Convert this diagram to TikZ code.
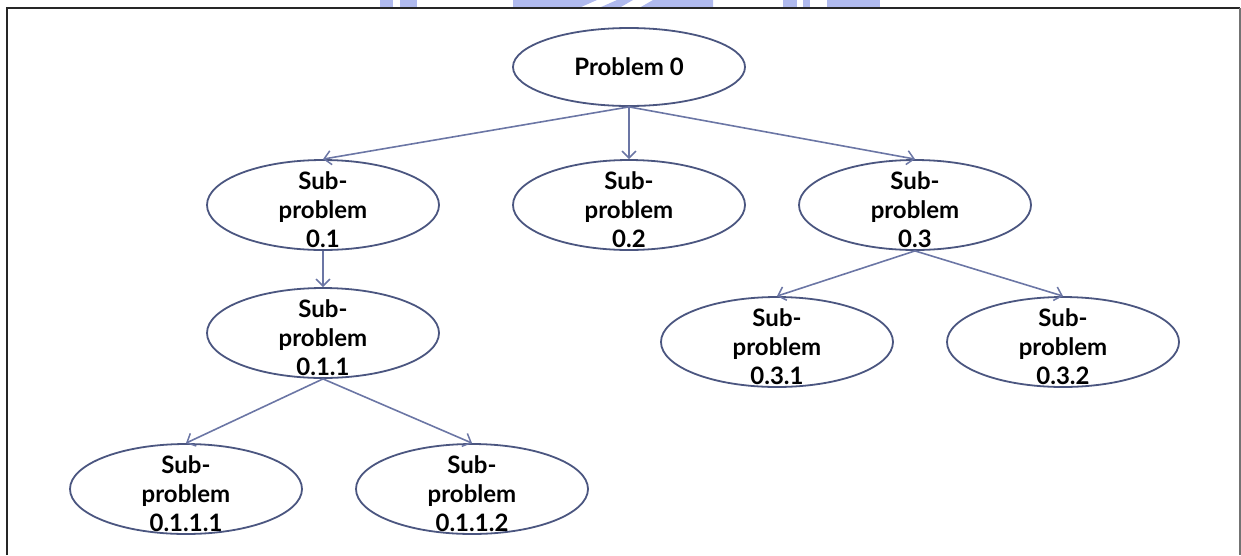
\documentclass[tikz,border=0pt]{standalone}
\usepackage{fontspec}
\setmainfont{Lato}
\usetikzlibrary{shapes.geometric,arrows.meta}

\definecolor{edgeblue}{HTML}{4B5680}
\definecolor{linkblue}{HTML}{6B76A5}
\definecolor{markblue}{HTML}{B0BAEE}

\tikzset{
  bubble/.style={ellipse, draw=edgeblue, line width=1.8pt, fill=white,
    minimum width=232pt, minimum height=90pt, inner sep=0pt},
  topbubble/.style={bubble, minimum height=78pt},
  caption/.style={font=\fontsize{24}{29}\selectfont\bfseries, align=center,
    inner sep=0pt},
  link/.style={draw=linkblue, line width=1.6pt,
    -{Straight Barb[length=7pt,width=14pt,line width=1.5pt]}},
  frameline/.style={line width=2pt}
}

\begin{document}
\begin{tikzpicture}[x=1pt,y=-1pt]
\useasboundingbox (0,0) rectangle (1241,555);

% strip of the page mark above the frame
\fill[markblue] (380,0) rectangle (393,7.5);
\fill[markblue] (400,0) rectangle (417,7.5);
\fill[markblue] (513,0) -- (597,0) -- (580,7.5) -- (513,7.5) -- cycle;
\fill[markblue] (617,0) -- (633,0) -- (620,7.5) -- (600,7.5) -- cycle;
\fill[markblue] (653,0) -- (713,0) -- (713,7.5) -- (640,7.5) -- cycle;
\fill[markblue] (783,0) rectangle (797,7.5);
\fill[markblue] (803,0) rectangle (810,7.5);
\fill[markblue] (827,0) rectangle (880,7.5);

% frame
\draw[frameline, black!85] (7,555) -- (7,8) -- (1240,8);
\draw[frameline, black!55] (1240,8) -- (1240,555);

% nodes
\node[topbubble] (p0) at (629,67) {};
\node[caption] (p0t) at (p0) {Problem 0};

\node[bubble] (s01) at (323,205) {};
\node[caption, yshift=-5pt] (s01t) at (s01) {Sub-\\problem\\0.1};

\node[bubble] (s02) at (629,205) {};
\node[caption, yshift=-5pt] (s02t) at (s02) {Sub-\\problem\\0.2};

\node[bubble] (s03) at (915,205) {};
\node[caption, yshift=-5pt] (s03t) at (s03) {Sub-\\problem\\0.3};

\node[bubble] (s011) at (323,333) {};
\node[caption, yshift=-5pt] (s011t) at (s011) {Sub-\\problem\\0.1.1};

\node[bubble] (s031) at (777,342) {};
\node[caption, yshift=-5pt] (s031t) at (s031) {Sub-\\problem\\0.3.1};

\node[bubble] (s032) at (1063,342) {};
\node[caption, yshift=-5pt] (s032t) at (s032) {Sub-\\problem\\0.3.2};

\node[bubble] (s0111) at (186,489) {};
\node[caption, yshift=-5pt] (s0111t) at (s0111) {Sub-\\problem\\0.1.1.1};

\node[bubble] (s0112) at (472,489) {};
\node[caption, yshift=-5pt] (s0112t) at (s0112) {Sub-\\problem\\0.1.1.2};

% connectors
\draw[link] (p0.south) -- (s01.north);
\draw[link] (p0.south) -- (s02.north);
\draw[link] (p0.south) -- (s03.north);
\draw[link] (s01.south) -- (s011.north);
\draw[link] (s011.south) -- (s0111.north);
\draw[link] (s011.south) -- (s0112.north);
\draw[link] (s03.south) -- (s031.north);
\draw[link] (s03.south) -- (s032.north);
\end{tikzpicture}
\end{document}
